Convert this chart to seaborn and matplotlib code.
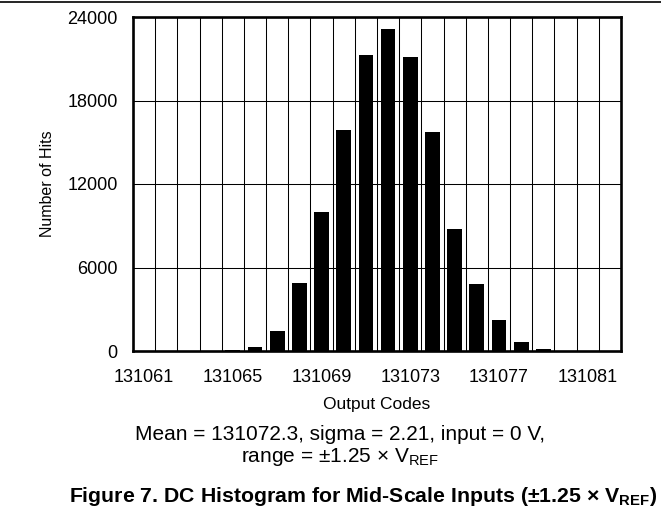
import matplotlib
matplotlib.use("Agg")
import matplotlib.pyplot as plt
from matplotlib.lines import Line2D
import seaborn as sns
import pandas as pd

# ---- data ----
codes = [131061, 131062, 131063, 131064, 131065, 131066, 131067, 131068,
         131069, 131070, 131071, 131072, 131073, 131074, 131075, 131076,
         131077, 131078, 131079, 131080, 131081, 131082]
hits = [0, 0, 0, 0, 40, 280, 1450, 4870,
        9960, 15870, 21250, 23150, 21150, 15720, 8780, 4780,
        2200, 680, 140, 0, 0, 0]
xtick_labels = ["131061", "131065", "131069", "131073", "131077", "131081"]
ytick_values = [0, 6000, 12000, 18000, 24000]
x_label = "Output Codes"
y_label = "Number of Hits"
caption_1 = "Mean = 131072.3, sigma = 2.21, input = 0 V,"
caption_2 = r"range = ±1.25 × V$_{\mathregular{REF}}$"
title = r"Figure 7. DC Histogram for Mid-Scale Inputs (±1.25 × V$_{\mathbf{REF}}$)"

sns.set_theme(style="white")
plt.rcParams["font.family"] = ["Liberation Sans", "DejaVu Sans"]
plt.rcParams["mathtext.fontset"] = "custom"
plt.rcParams["mathtext.rm"] = "Liberation Sans"
plt.rcParams["mathtext.bf"] = "Liberation Sans:bold"

df = pd.DataFrame({"code": [str(c) for c in codes], "hits": hits})

W, H = 661, 514
fig = plt.figure(figsize=(W / 100, H / 100), dpi=100)
left, right, top, bottom = 133, 621, 17, 351
ax = fig.add_axes([left / W, 1 - bottom / H, (right - left) / W, (bottom - top) / H])

sns.barplot(data=df, x="code", y="hits", order=[str(c) for c in codes],
            color="black", width=0.66, edgecolor="none", saturation=1, ax=ax)

n = len(codes)
ax.set_xlim(-0.5, n - 0.5)
ax.set_ylim(0, 24000)

# grid
for k in range(n + 1):
    ax.axvline(k - 0.5, color="black", lw=0.75, zorder=0)
for v in ytick_values:
    ax.axhline(v, color="black", lw=0.75, zorder=0)
ax.set_axisbelow(True)

ax.set_yticks(ytick_values)
ax.set_yticklabels([str(v) for v in ytick_values])
ax.set_xticks([codes.index(int(t)) for t in xtick_labels])
ax.set_xticklabels(xtick_labels)
ax.tick_params(axis="both", length=0, labelsize=13, colors="black")
ax.tick_params(axis="y", pad=11)
ax.tick_params(axis="x", pad=13)

for s in ax.spines.values():
    s.set_visible(True)
    s.set_color("black")
    s.set_linewidth(1.9)

ax.set_xlabel(x_label, fontsize=12.5, labelpad=8, color="black")
ax.set_ylabel(y_label, fontsize=11.5, labelpad=9, color="black")

fig.text(340 / W, 1 - 435 / H, caption_1, ha="center", va="center", fontsize=15, color="black")
fig.text(340 / W, 1 - 457 / H, caption_2, ha="center", va="center", fontsize=15, color="black")
fig.text(363 / W, 1 - 496 / H, title, ha="center", va="center", fontsize=15.3,
         fontweight="bold", color="black")

fig.add_artist(Line2D([0, 1], [1 - 2 / H, 1 - 2 / H], transform=fig.transFigure,
                      color="black", lw=1.2))

fig.savefig("out.png", dpi=100)
